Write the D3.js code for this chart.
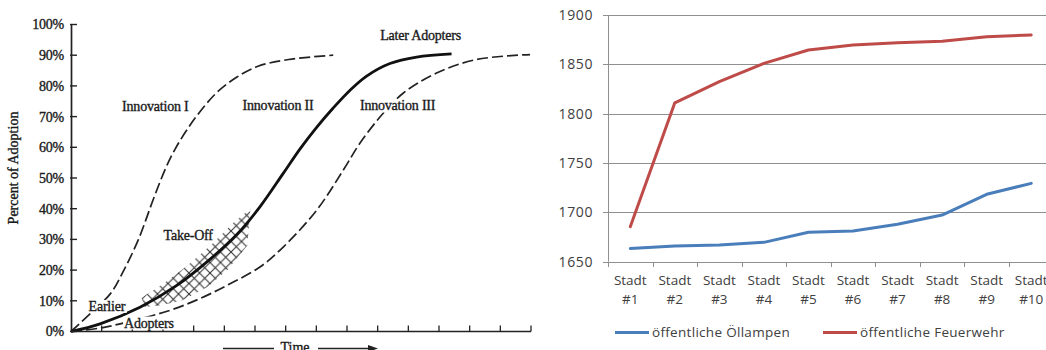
<!DOCTYPE html>
<html><head><meta charset="utf-8">
<script src="https://cdn.jsdelivr.net/npm/d3@7"></script>
<style>
html,body{margin:0;padding:0;background:#fff;}
svg{display:block;}
</style></head>
<body>
<svg id="chart" width="1046" height="350"></svg>
<script>
// ---------------- Left panel data ----------------
const pctTicks = [0,10,20,30,40,50,60,70,80,90,100];
const timeTicks = [0,1,2,3,4,5,6,7,8,9,10,11,12,13,14,15];
const innovation1 = [
  {t:0,p:0},{t:0.7,p:6.5},{t:1.3,p:12.5},{t:1.7,p:19.5},{t:2.2,p:30},{t:2.7,p:43.5},
  {t:3.1,p:53.5},{t:3.4,p:59.5},{t:3.8,p:66},{t:4.2,p:71.5},{t:4.75,p:77.8},{t:5.4,p:82.8},
  {t:6.1,p:86.4},{t:7.1,p:88.6},{t:8.55,p:90}];
const innovation2 = [
  {t:0,p:0},{t:0.95,p:2.5},{t:2.25,p:7.9},{t:3.45,p:15},{t:4.53,p:23.5},{t:5.4,p:31.5},
  {t:6.16,p:40.6},{t:6.92,p:51.5},{t:7.47,p:59.5},{t:8.01,p:66.5},{t:8.55,p:72.8},
  {t:9.1,p:78.6},{t:9.64,p:83.2},{t:10.4,p:87.3},{t:11.27,p:89.4},{t:12.41,p:90.4}];
const innovation3 = [
  {t:0,p:0},{t:1,p:1.2},{t:2,p:3.5},{t:3.23,p:6.9},{t:4.2,p:10.7},{t:5.08,p:15},
  {t:6.16,p:21},{t:6.92,p:27.5},{t:8.01,p:39.5},{t:8.88,p:52.6},{t:9.42,p:61.3},
  {t:10.18,p:71.1},{t:10.84,p:77.7},{t:11.92,p:84.2},{t:13.23,p:88.6},{t:14.97,p:90.2}];
const takeOffUpper = [{t:2.3,p:11},{t:3.0,p:15.5},{t:3.8,p:21.5},{t:4.6,p:28.5},{t:5.3,p:35.5},{t:5.85,p:40}];
const takeOffLower = [{t:5.75,p:28},{t:5.1,p:20},{t:4.45,p:14.5},{t:3.6,p:10},{t:2.9,p:8.5},{t:2.4,p:8}];
const leftLabels = ["Innovation I","Innovation II","Innovation III","Later Adopters","Take-Off","Earlier","Adopters"];
const leftAxisTitle = "Percent of Adoption";
const timeLabel = "Time";

// ---------------- Right panel data ----------------
const cities = ["Stadt #1","Stadt #2","Stadt #3","Stadt #4","Stadt #5","Stadt #6","Stadt #7","Stadt #8","Stadt #9","Stadt #10"];
const oellampen  = [1663.5,1666,1667,1669.6,1679.8,1681.1,1687.9,1697.3,1718.3,1729.4];
const feuerwehr  = [1685.5,1811,1832.4,1851,1864.5,1869.6,1872,1873.3,1878,1879.7];
const yearTicks  = [1650,1700,1750,1800,1850,1900];
const seriesNames = ["öffentliche Öllampen","öffentliche Feuerwehr"];

const svg = d3.select("#chart");
const serif = "'Liberation Serif','Times New Roman',serif";
const sans = "'Open Sans','Noto Sans',sans-serif";

// ======================= LEFT PANEL =======================
const xL = d3.scaleLinear().domain([0,15]).range([71,531]);
const yL = d3.scaleLinear().domain([0,100]).range([331.5,24.5]);
const L = svg.append("g");

const defs = svg.append("defs");
const pat = defs.append("pattern").attr("id","hatch").attr("patternUnits","userSpaceOnUse")
  .attr("width",10.5).attr("height",10.5);
pat.append("path").attr("d","M0,0L10.5,10.5M0,10.5L10.5,0").attr("stroke","#333").attr("stroke-width",1.1).attr("fill","none");

// take-off hatched band
const band = takeOffUpper.concat(takeOffLower);
L.append("path")
  .attr("d", d3.line().x(d=>xL(d.t)).y(d=>yL(d.p))(band) + "Z")
  .attr("fill","url(#hatch)").attr("stroke","none");

const lineL = d3.line().x(d=>xL(d.t)).y(d=>yL(d.p)).curve(d3.curveCatmullRom.alpha(0.5));
L.append("path").attr("d",lineL(innovation1)).attr("fill","none")
  .attr("stroke","#222").attr("stroke-width",1.7).attr("stroke-dasharray","11,4");
L.append("path").attr("d",lineL(innovation3)).attr("fill","none")
  .attr("stroke","#222").attr("stroke-width",1.7).attr("stroke-dasharray","11,4");
L.append("path").attr("d",lineL(innovation2)).attr("fill","none")
  .attr("stroke","#111").attr("stroke-width",2.8);

// axes
L.append("line").attr("x1",xL(0)+0.5).attr("x2",xL(0)+0.5).attr("y1",yL(100)).attr("y2",yL(0))
  .attr("stroke","#222").attr("stroke-width",1.7);
L.append("line").attr("x1",xL(0)).attr("x2",xL(15)).attr("y1",yL(0)).attr("y2",yL(0))
  .attr("stroke","#222").attr("stroke-width",1.7);
L.selectAll("line.yt").data(pctTicks).enter().append("line")
  .attr("x1",xL(0)-1).attr("x2",xL(0)+6).attr("y1",d=>yL(d)).attr("y2",d=>yL(d))
  .attr("stroke","#222").attr("stroke-width",1.4);
L.selectAll("line.xt").data(timeTicks.slice(1)).enter().append("line")
  .attr("x1",d=>xL(d)).attr("x2",d=>xL(d)).attr("y1",yL(0)).attr("y2",yL(0)-6)
  .attr("stroke","#222").attr("stroke-width",1.3);
const serifText = sel => sel.attr("font-family",serif).attr("font-size",14).attr("fill","#1a1a1a")
  .attr("stroke","#1a1a1a").attr("stroke-width",0.35);
L.selectAll("text.yl").data(pctTicks).enter().append("text")
  .attr("x",64).attr("y",d=>yL(d)).attr("dy","0.35em").attr("text-anchor","end")
  .call(serifText).attr("letter-spacing","-0.2px")
  .text(d=>d+"%");
L.append("text").attr("transform","translate(18,168) rotate(-90)").attr("text-anchor","middle")
  .call(serifText).text(leftAxisTitle);

// annotations (positions via scales)
const ann = [
  {s:leftLabels[0], x:xL(2.75), y:yL(73.3)},
  {s:leftLabels[1], x:xL(6.75), y:yL(73.5)},
  {s:leftLabels[2], x:xL(10.65), y:yL(73.5)},
  {s:leftLabels[3], x:xL(11.4), y:yL(96.3)},
  {s:leftLabels[4], x:xL(3.82), y:yL(31.3)},
  {s:leftLabels[5], x:xL(1.17), y:yL(8.2)},
  {s:leftLabels[6], x:xL(2.54), y:yL(2.8)}
];
ann.forEach(a=>{
  const g = L.append("g");
  const t = g.append("text").attr("x",a.x).attr("y",a.y).attr("dy","0.33em").attr("text-anchor","middle")
    .call(serifText).attr("letter-spacing","-0.2px").text(a.s);
  const b = t.node().getBBox();
  g.insert("rect","text").attr("x",b.x-1).attr("y",b.y+1).attr("width",b.width+2).attr("height",b.height-2).attr("fill","#fff");
});

// Time arrow
L.append("line").attr("x1",223).attr("x2",274).attr("y1",348.5).attr("y2",348.5).attr("stroke","#222").attr("stroke-width",1.4);
L.append("line").attr("x1",318).attr("x2",372).attr("y1",348.5).attr("y2",348.5).attr("stroke","#222").attr("stroke-width",1.4);
L.append("path").attr("d","M368,345L378,348.5L368,352Z").attr("fill","#222");
L.append("text").attr("x",295).attr("y",352).attr("text-anchor","middle")
  .call(serifText).text(timeLabel);

// ======================= RIGHT PANEL =======================
const xR = d3.scaleBand().domain(cities).range([608,1053.5]).padding(0);
const yR = d3.scaleLinear().domain([1650,1900]).range([261.7,15]);
const R = svg.append("g");
const grid = "#8f8f8f", txt = "#404040";

R.selectAll("line.grid").data(yearTicks).enter().append("line")
  .attr("x1",603).attr("x2",1053.5).attr("y1",d=>Math.round(yR(d))+0.5).attr("y2",d=>Math.round(yR(d))+0.5)
  .attr("stroke",grid).attr("stroke-width",1);
R.append("line").attr("x1",608.5).attr("x2",608.5).attr("y1",yR(1900)).attr("y2",yR(1650))
  .attr("stroke",grid).attr("stroke-width",1);
const bounds = cities.map(c=>xR(c)).concat([xR.range()[1]]);
R.selectAll("line.xt").data(bounds).enter().append("line")
  .attr("x1",d=>Math.round(d)+0.5).attr("x2",d=>Math.round(d)+0.5)
  .attr("y1",Math.round(yR(1650))).attr("y2",Math.round(yR(1650))+5)
  .attr("stroke",grid).attr("stroke-width",1);

R.selectAll("text.yl").data(yearTicks).enter().append("text")
  .attr("x",593).attr("y",d=>yR(d)).attr("dy","0.36em").attr("text-anchor","end")
  .attr("font-family",sans).attr("font-size",14).attr("letter-spacing","0.6px").attr("fill",txt).text(d=>d);

const xl = R.selectAll("text.xl").data(cities).enter().append("text")
  .attr("text-anchor","middle").attr("font-family",sans).attr("font-size",13.5).attr("fill",txt);
xl.append("tspan").attr("x",d=>xR(d)+xR.bandwidth()/2).attr("y",285).text(d=>d.split(" ")[0]);
xl.append("tspan").attr("x",d=>xR(d)+xR.bandwidth()/2).attr("y",304).text(d=>d.split(" ")[1]);

const lineR = d3.line().x((d,i)=>xR(cities[i])+xR.bandwidth()/2).y(d=>yR(d));
const colors = ["#4a7ebb","#be4b48"];
[oellampen,feuerwehr].forEach((s,i)=>{
  R.append("path").attr("d",lineR(s)).attr("fill","none").attr("stroke",colors[i])
    .attr("stroke-width",3).attr("stroke-linejoin","round").attr("stroke-linecap","round");
});

// legend
const legX = [615,823];
seriesNames.forEach((n,i)=>{
  R.append("line").attr("x1",legX[i]).attr("x2",legX[i]+34).attr("y1",332.5).attr("y2",332.5)
    .attr("stroke",colors[i]).attr("stroke-width",3);
  R.append("text").attr("x",legX[i]+37).attr("y",332.5).attr("dy","0.35em")
    .attr("font-family",sans).attr("font-size",13.5).attr("letter-spacing","0.3px").attr("fill",txt).text(n);
});
</script>
</body></html>
